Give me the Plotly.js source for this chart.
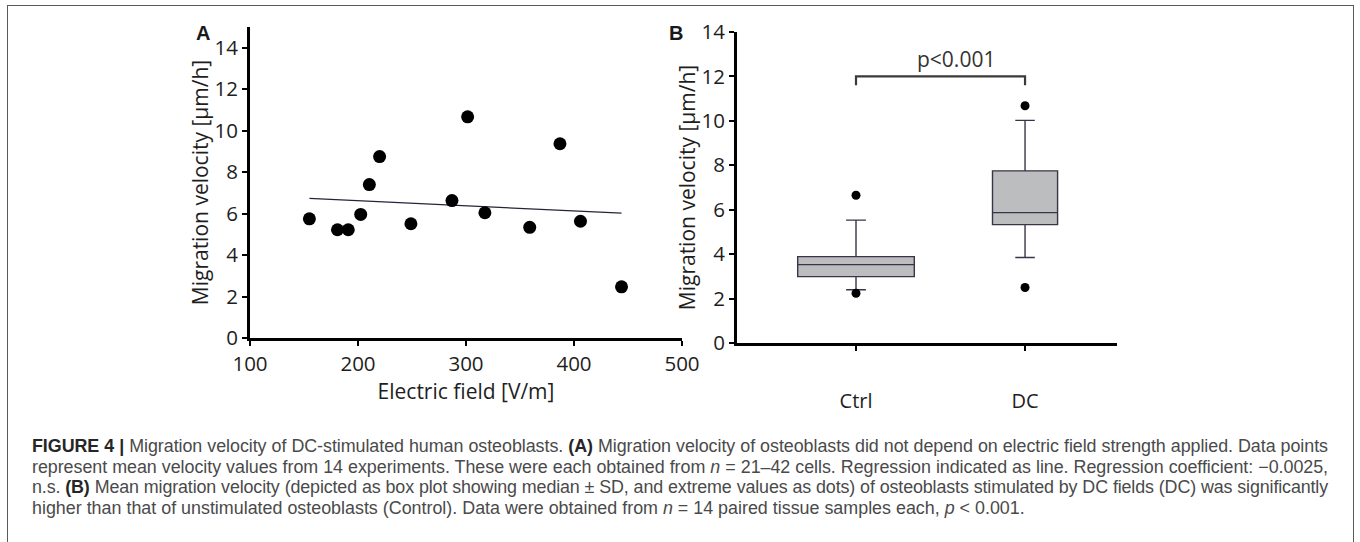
<!DOCTYPE html>
<html>
<head>
<meta charset="utf-8">
<script src="https://cdn.plot.ly/plotly-3.0.1.min.js"></script>
<style>
  html, body { margin:0; padding:0; background:#ffffff; }
  #wrap { position:relative; width:1360px; height:542px; overflow:hidden; background:#fff; }
  #chart { position:absolute; left:0; top:0; width:1360px; height:542px; }
  #frame { position:absolute; left:7px; top:5px; width:1347px; height:560px; border:1.5px solid #5a5a5a; box-sizing:border-box; pointer-events:none; }
  #caption { position:absolute; left:32px; top:436px; width:1296px; font-family:"Liberation Sans",Arial,sans-serif; font-weight:400; font-size:16px; color:#4a4a4a; line-height:20.7px; }
  #caption div { text-align:justify; text-align-last:justify; white-space:nowrap; }
  #caption div.last { text-align-last:left; }
  #caption b { color:#262626; font-weight:700; }
</style>
</head>
<body>
<div id="wrap">
  <div id="chart"></div>
  <div id="frame"></div>
  <div id="caption">
    <div><b>FIGURE 4 |</b> Migration velocity of DC-stimulated human osteoblasts. <b>(A)</b> Migration velocity of osteoblasts did not depend on electric field strength applied. Data points</div>
    <div>represent mean velocity values from 14 experiments. These were each obtained from <i>n</i> = 21–42 cells. Regression indicated as line. Regression coefficient: −0.0025,</div>
    <div>n.s. <b>(B)</b> Mean migration velocity (depicted as box plot showing median ± SD, and extreme values as dots) of osteoblasts stimulated by DC fields (DC) was significantly</div>
    <div class="last">higher than that of unstimulated osteoblasts (Control). Data were obtained from <i>n</i> = 14 paired tissue samples each, <i>p</i> &lt; 0.001.</div>
  </div>
</div>
<script>
// ---- Panel A data: electric field vs migration velocity ----
const fieldA = [155, 181, 191, 202.5, 210.5, 220, 249, 287, 301.5, 317.5, 359, 387, 406, 444];
const velocityA = [5.75, 5.22, 5.22, 5.96, 7.40, 8.75, 5.51, 6.63, 10.67, 6.04, 5.34, 9.37, 5.63, 2.47];
const xTicksA = [100, 200, 300, 400, 500];
const yTicksA = [0, 2, 4, 6, 8, 10, 12, 14];

// ---- Panel B data: box plot statistics ----
const groupsB = ['Ctrl', 'DC'];
const q1B = [2.99, 5.33];
const medianB = [3.53, 5.87];
const q3B = [3.89, 7.75];
const lowB = [2.40, 3.85];
const highB = [5.53, 10.02];
const extremeGroupB = ['Ctrl', 'Ctrl', 'DC', 'DC'];
const extremeValB = [6.65, 2.24, 10.68, 2.50];
const yTicksB = [0, 2, 4, 6, 8, 10, 12, 14];
const sigLabel = 'p<0.001';
const sigLevel = 12.0;
const sigDrop = 0.4;

// size the caption so the (unjustified) last line has the reference length,
// then tighten any justified line that would overflow
(function fitCaption() {
  const target = 1296, lastTarget = 994;
  const cap = document.getElementById('caption');
  const lines = Array.from(cap.querySelectorAll('div'));
  const natural = d => {
    const s = document.createElement('span');
    s.style.whiteSpace = 'nowrap';
    s.innerHTML = d.innerHTML;
    const keep = d.innerHTML;
    d.innerHTML = '';
    d.appendChild(s);
    const w = s.getBoundingClientRect().width;
    d.innerHTML = keep;
    return w;
  };
  const w4 = natural(lines[lines.length - 1]);
  const fs = Math.max(14, Math.min(18, 16 * lastTarget / w4));
  cap.style.fontSize = fs + 'px';
  lines.forEach(d => {
    const w = natural(d);
    if (w > target) {
      d.style.letterSpacing = ((target - w) / d.textContent.length - 0.02) + 'px';
    }
  });
})();

// least-squares regression line from the data
const n = fieldA.length;
const mx = fieldA.reduce((a, b) => a + b, 0) / n;
const my = velocityA.reduce((a, b) => a + b, 0) / n;
let sxy = 0, sxx = 0;
for (let i = 0; i < n; i++) { sxy += (fieldA[i] - mx) * (velocityA[i] - my); sxx += (fieldA[i] - mx) ** 2; }
const slope = sxy / sxx, icpt = my - slope * mx;
const xMin = Math.min(...fieldA), xMax = Math.max(...fieldA);

const tickFont = { family: 'Open Sans, sans-serif', size: 20.5, color: '#1e1e1e' };
const titleFont = { family: 'Open Sans, sans-serif', size: 21, color: '#1e1e1e' };
const lineCol = '#3d3347';

const traces = [
  { type: 'scatter', mode: 'lines', x: [xMin, xMax], y: [icpt + slope * xMin, icpt + slope * xMax],
    line: { color: '#26243a', width: 1.3 }, xaxis: 'x', yaxis: 'y', hoverinfo: 'skip' },
  { type: 'scatter', mode: 'markers', x: fieldA, y: velocityA,
    marker: { color: '#000', size: 13 }, xaxis: 'x', yaxis: 'y' },
  { type: 'box', x: [groupsB[0]], q1: [q1B[0]], median: [medianB[0]], q3: [q3B[0]],
    lowerfence: [lowB[0]], upperfence: [highB[0]], width: 0.69, whiskerwidth: 0.17,
    fillcolor: '#bcbdbf', line: { color: lineCol, width: 1.4 }, boxpoints: false,
    xaxis: 'x2', yaxis: 'y2' },
  { type: 'box', x: [groupsB[1]], q1: [q1B[1]], median: [medianB[1]], q3: [q3B[1]],
    lowerfence: [lowB[1]], upperfence: [highB[1]], width: 0.385, whiskerwidth: 0.3,
    fillcolor: '#bcbdbf', line: { color: lineCol, width: 1.4 }, boxpoints: false,
    xaxis: 'x2', yaxis: 'y2' },
  { type: 'scatter', mode: 'markers', x: extremeGroupB, y: extremeValB,
    marker: { color: '#000', size: 9 }, xaxis: 'x2', yaxis: 'y2' },
  { type: 'scatter', mode: 'lines', x: [groupsB[0], groupsB[0], groupsB[1], groupsB[1]],
    y: [sigLevel - sigDrop, sigLevel, sigLevel, sigLevel - sigDrop],
    line: { color: '#3a3a3a', width: 2.2 }, xaxis: 'x2', yaxis: 'y2', hoverinfo: 'skip' }
];

const axBase = {
  showline: true, linecolor: '#000', linewidth: 3, ticks: 'outside', ticklen: 5, tickwidth: 2,
  tickcolor: '#000', showgrid: false, zeroline: false, tickfont: tickFont, automargin: false
};

const layout = {
  width: 1360, height: 542, margin: { l: 0, r: 0, t: 0, b: 0 },
  paper_bgcolor: '#ffffff', plot_bgcolor: '#ffffff', showlegend: false,
  xaxis: Object.assign({}, axBase, { domain: [250 / 1360, 682 / 1360], range: [100, 500], tickvals: xTicksA,
    anchor: 'y', title: { text: 'Electric field [V/m]', font: titleFont, standoff: 2 } }),
  yaxis: Object.assign({}, axBase, { domain: [(542 - 338) / 542, (542 - 27) / 542], range: [0, 15], tickvals: yTicksA,
    anchor: 'x', title: { text: 'Migration velocity [µm/h]', font: titleFont, standoff: 0 } }),
  xaxis2: Object.assign({}, axBase, { domain: [737 / 1360, 1117 / 1360], type: 'category', categoryarray: groupsB,
    range: [-0.704, 1.544], anchor: 'y2', ticklabelstandoff: 33,
    tickfont: { family: 'Open Sans, sans-serif', size: 20, color: '#1e1e1e' } }),
  yaxis2: Object.assign({}, axBase, { domain: [(542 - 343) / 542, (542 - 32) / 542], range: [0, 14], tickvals: yTicksB,
    anchor: 'x2', title: { text: 'Migration velocity [µm/h]', font: titleFont, standoff: 1 } }),
  annotations: [
    { text: '<b>A</b>', xref: 'paper', yref: 'paper', x: 203 / 1360, y: 1 - 33 / 542, xanchor: 'center', yanchor: 'middle',
      showarrow: false, font: { family: 'Liberation Sans, Arial, sans-serif', size: 20, color: '#1a1a1a' } },
    { text: '<b>B</b>', xref: 'paper', yref: 'paper', x: 676 / 1360, y: 1 - 33 / 542, xanchor: 'center', yanchor: 'middle',
      showarrow: false, font: { family: 'Liberation Sans, Arial, sans-serif', size: 20, color: '#1a1a1a' } },
    { text: sigLabel, xref: 'x2', yref: 'y2', x: 0.5, y: sigLevel, xshift: 15, yshift: 1, xanchor: 'center', yanchor: 'bottom',
      showarrow: false, font: { family: 'Open Sans, sans-serif', size: 21, color: '#333' } }
  ]
};

Plotly.newPlot('chart', traces, layout, { staticPlot: true, displayModeBar: false });
</script>
</body>
</html>
